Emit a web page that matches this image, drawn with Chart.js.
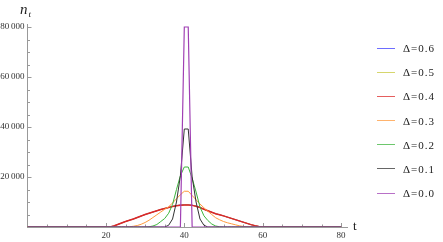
<!DOCTYPE html>
<html>
<head>
<meta charset="utf-8">
<script src="https://cdn.jsdelivr.net/npm/chart.js@4"></script>
<style>
  html, body { margin: 0; padding: 0; background: #fff; }
  #wrap { position: relative; width: 443px; height: 242px; overflow: hidden; }
  #chart { position: absolute; left: 0; top: 0; }
  .lab { position: absolute; font-family: "Liberation Serif", "DejaVu Serif", serif; color: #222; line-height: 1; }
  #ylab { left: 20px; top: 2px; font-size: 15px; font-style: italic; }
  #ylab .sub { font-size: 9px; position: relative; top: 3px; left: 1px; }
  #xlab { left: 353px; top: 219px; font-size: 13px; }
  #legend { position: absolute; left: 377px; top: 36px; }
  .item { display: flex; align-items: center; height: 24.17px; }
  .swatch { width: 18px; height: 1px; margin-right: 8px; }
  .item span { font: 11px "Liberation Serif", serif; letter-spacing: 1px; color: #222; }
</style>
</head>
<body>
<div id="wrap">
  <canvas id="chart" width="443" height="242"></canvas>
  <div class="lab" id="ylab">n<span class="sub">t</span></div>
  <div class="lab" id="xlab">t</div>
  <div id="legend"></div>
</div>
<script>
// ===== Data: n_t against t for each Δ =====
const tValues = [0,
  20, 21, 22, 23, 24, 25, 26, 27, 28, 29,
  30, 31, 32, 33, 34, 35, 36, 37, 38, 39,
  40, 41, 42, 43, 44, 45, 46, 47, 48, 49,
  50, 51, 52, 53, 54, 55, 56, 57, 58, 59,
  60, 80];

const delta06 = [0,
  0, 50, 400, 1000, 1600, 2200, 2700, 3200, 3800, 4400,
  5000, 5500, 6000, 6500, 7000, 7400, 7800, 8200, 8550, 8800,
  8900, 8900, 8750, 8350, 7800, 7100, 6500, 5900, 5300, 4900,
  4450, 3950, 3450, 2950, 2450, 1950, 1450, 950, 550, 200,
  0, 0];
const delta05 = [0,
  0, 50, 400, 1000, 1600, 2200, 2700, 3200, 3800, 4400,
  5000, 5500, 6000, 6500, 7000, 7400, 7800, 8200, 8500, 8750,
  8850, 8850, 8700, 8300, 7800, 7100, 6500, 5900, 5300, 4900,
  4450, 3950, 3450, 2950, 2450, 1950, 1450, 950, 550, 200,
  0, 0];
const delta04 = [0,
  0, 50, 400, 1000, 1600, 2200, 2700, 3200, 3800, 4400,
  5000, 5500, 6000, 6500, 7000, 7400, 7800, 8200, 8500, 8700,
  8800, 8800, 8650, 8300, 7800, 7100, 6500, 5900, 5300, 4900,
  4450, 3950, 3450, 2950, 2450, 1950, 1450, 950, 550, 200,
  0, 0];
const delta03 = [0,
  0, 0, 0, 0, 0, 0, 100, 300, 600, 1100,
  1800, 2700, 3800, 4900, 6000, 7100, 8100, 9600, 11300, 12900,
  14300, 14300, 12600, 10900, 9200, 7700, 6300, 5000, 3700, 2900,
  2200, 1700, 1300, 900, 500, 250, 80, 0, 0, 0,
  0, 0];
const delta02 = [0,
  0, 0, 0, 0, 0, 0, 0, 0, 0, 0,
  0, 100, 400, 1000, 2200, 3400, 5500, 9000, 15000, 20500,
  24000, 24000, 19500, 14000, 8000, 4500, 2600, 1200, 400, 100,
  0, 0, 0, 0, 0, 0, 0, 0, 0, 0,
  0, 0];
const delta01 = [0,
  0, 0, 0, 0, 0, 0, 0, 0, 0, 0,
  0, 0, 0, 0, 0, 0, 700, 3200, 10000, 20500,
  39200, 39200, 20000, 10000, 3200, 700, 0, 0, 0, 0,
  0, 0, 0, 0, 0, 0, 0, 0, 0, 0,
  0, 0];
const delta00 = [0,
  0, 0, 0, 0, 0, 0, 0, 0, 0, 0,
  0, 0, 0, 0, 0, 0, 0, 0, 0, 0,
  80000, 80000, 0, 0, 0, 0, 0, 0, 0, 0,
  0, 0, 0, 0, 0, 0, 0, 0, 0, 0,
  0, 0];

const seriesLabels = ["Δ=0.6", "Δ=0.5", "Δ=0.4", "Δ=0.3", "Δ=0.2", "Δ=0.1", "Δ=0.0"];
const seriesValues = [delta06, delta05, delta04, delta03, delta02, delta01, delta00];
const seriesColors = ["#3c3cff", "#c8c83c", "#dc2828", "#ff9a3c", "#3cb43c", "#333333", "#a040b4"];
const seriesWidths = [1, 1, 1.5, 1, 1, 1, 1.2];

// ===== Ticks (major ones get labels) =====
const xTicks = [5, 10, 15, 20, 25, 30, 35, 40, 45, 50, 55, 60, 65, 70, 75, 80];
const xMajor = [20, 40, 60, 80];
const yTicks = [5000, 10000, 15000, 20000, 25000, 30000, 35000, 40000,
  45000, 50000, 55000, 60000, 65000, 70000, 75000, 80000];
const yMajor = [20000, 40000, 60000, 80000];
const yMajorLabels = ["20\u2009000", "40\u2009000", "60\u2009000", "80\u2009000"];

const fontFamily = "'Liberation Serif', 'DejaVu Serif', serif";

// ===== Inward tick marks (Mathematica style) =====
const inwardTicks = {
  id: "inwardTicks",
  beforeDatasetsDraw(chart) {
    const { ctx, scales: { x, y } } = chart;
    ctx.save();
    ctx.strokeStyle = "#999";
    ctx.lineWidth = 1;
    xTicks.forEach(v => {
      const px = Math.round(x.getPixelForValue(v)) + 0.5;
      const len = xMajor.includes(v) ? 4 : 2.5;
      ctx.beginPath();
      ctx.moveTo(px, y.bottom);
      ctx.lineTo(px, y.bottom - len);
      ctx.stroke();
    });
    yTicks.forEach(v => {
      const py = Math.round(y.getPixelForValue(v)) + 0.5;
      const len = yMajor.includes(v) ? 4 : 2.5;
      ctx.beginPath();
      ctx.moveTo(x.left, py);
      ctx.lineTo(x.left + len, py);
      ctx.stroke();
    });
    ctx.restore();
  }
};

function createChart() {
  const ctx = document.getElementById("chart").getContext("2d");

  const datasets = seriesLabels.map((label, i) => ({
    label: label,
    data: tValues.map((t, j) => ({ x: t, y: seriesValues[i][j] })),
    borderColor: seriesColors[i],
    borderWidth: seriesWidths[i],
    pointRadius: 0,
    tension: 0,
    fill: false,
    order: seriesLabels.length - 1 - i
  }));

  return new Chart(ctx, {
    type: "line",
    data: { datasets },
    options: {
      responsive: false,
      animation: false,
      layout: { padding: { top: 24.5, right: 96, bottom: 0, left: 0 } },
      plugins: { legend: { display: false }, tooltip: { enabled: false } },
      scales: {
        x: {
          type: "linear",
          min: 0,
          max: 81.5,
          afterFit: s => { s.height = 15; },
          afterBuildTicks: s => { s.ticks = xMajor.map(v => ({ value: v })); },
          grid: { display: false, drawTicks: false },
          border: { display: true, color: "#999", width: 1 },
          ticks: {
            autoSkip: false,
            maxRotation: 0,
            padding: 3.5,
            color: "#333",
            font: { family: fontFamily, size: 9 },
            callback: v => String(v)
          }
        },
        y: {
          min: 0,
          max: 81000,
          afterFit: s => { s.width = 27.5; },
          afterBuildTicks: s => { s.ticks = yMajor.map(v => ({ value: v })); },
          grid: { display: false, drawTicks: false },
          border: { display: true, color: "#999", width: 1 },
          ticks: {
            autoSkip: false,
            padding: 3,
            color: "#333",
            font: { family: fontFamily, size: 9 },
            callback: v => yMajorLabels[yMajor.indexOf(v)]
          }
        }
      }
    },
    plugins: [inwardTicks]
  });
}

function buildLegend(chart) {
  const box = document.getElementById("legend");
  chart.data.datasets.forEach(ds => {
    const row = document.createElement("div");
    row.className = "item";
    const sw = document.createElement("div");
    sw.className = "swatch";
    sw.style.background = ds.borderColor;
    sw.style.opacity = "0.75";
    const txt = document.createElement("span");
    txt.textContent = ds.label;
    row.appendChild(sw);
    row.appendChild(txt);
    box.appendChild(row);
  });
}

const chart = createChart();
buildLegend(chart);
</script>
</body>
</html>
